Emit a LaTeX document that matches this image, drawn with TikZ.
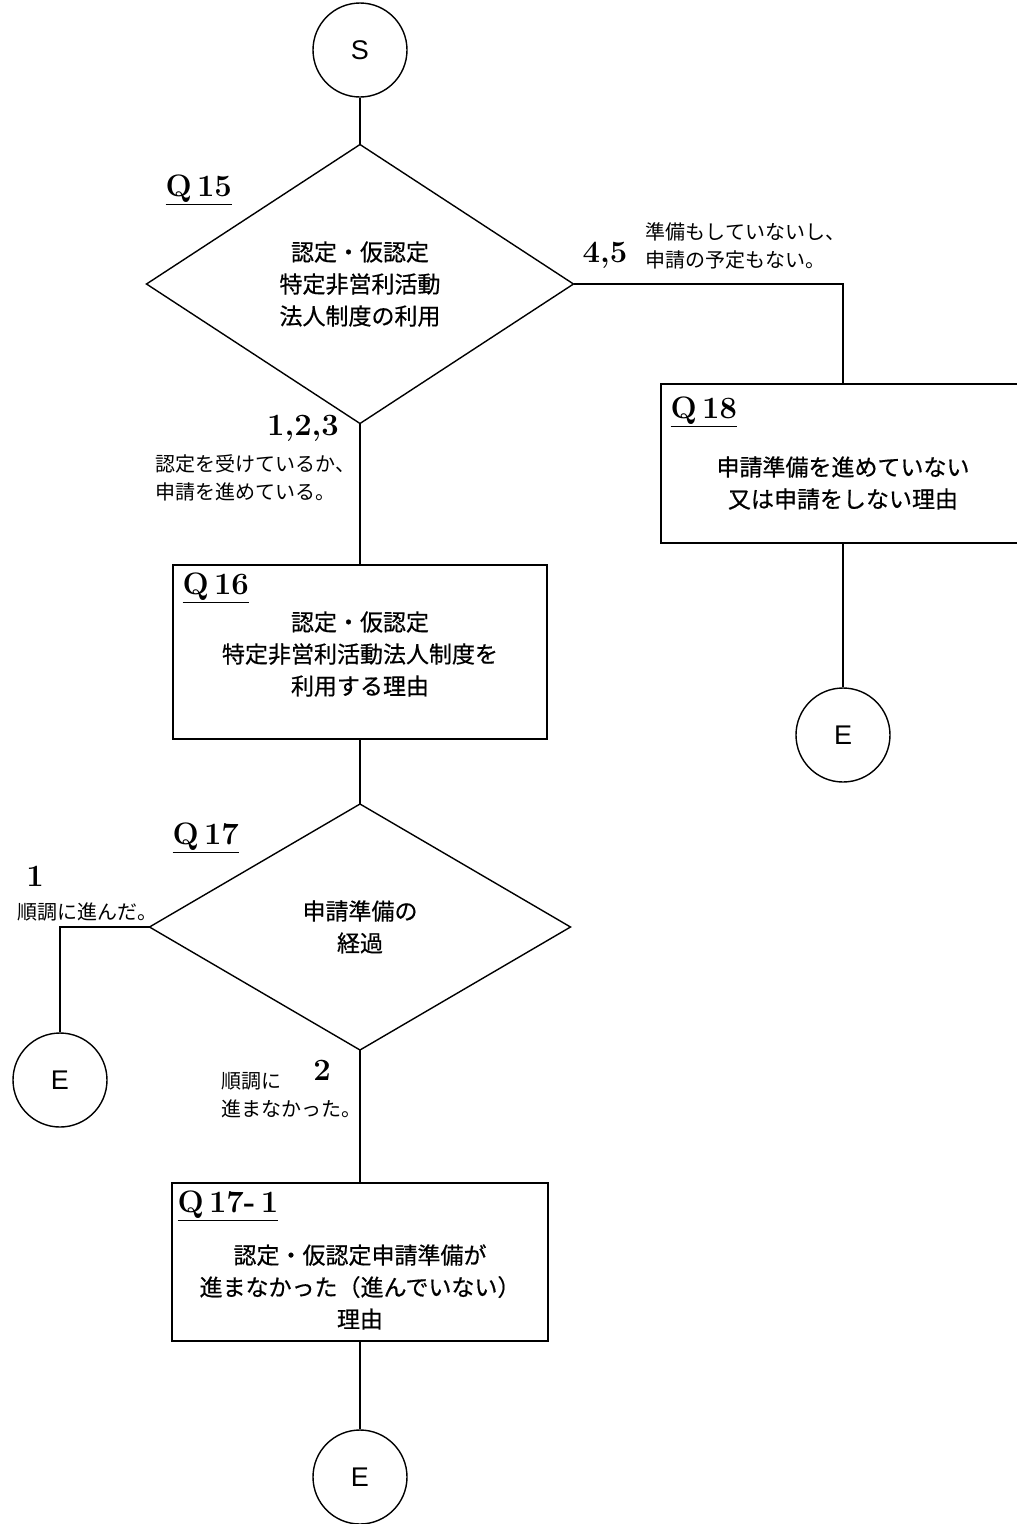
\documentclass[tikz,border=0pt]{standalone}
\usepackage{fontspec}
\newfontfamily\cjk{Noto Sans CJK JP}
\newfontfamily\cjkb{Noto Sans CJK JP}[FakeBold=0.6]
\newfontfamily\lsans{Liberation Sans}
\usetikzlibrary{shapes.geometric}
\begin{document}
\begin{tikzpicture}[x=1pt,y=-1pt,line width=1.4pt,
  term/.style={circle,draw,minimum size=94pt,inner sep=0pt,font=\lsans\fontsize{27}{30}\selectfont},
  decbox/.style={diamond,draw,inner sep=0pt,outer sep=0pt,align=center,font=\cjkb\fontsize{23}{32}\selectfont},
  qbox/.style={rectangle,draw,inner sep=0pt,outer sep=0pt},
  boxtext/.style={align=center,inner sep=0pt,font=\cjkb\fontsize{23}{32}\selectfont},
  qlabel/.style={anchor=west,inner sep=0pt,font=\bfseries\fontsize{31}{34}\selectfont},
  num/.style={inner sep=0pt,font=\bfseries\fontsize{31}{34}\selectfont},
  note/.style={anchor=west,align=left,inner sep=0pt,font=\cjk\fontsize{20}{28}\selectfont}]
\useasboundingbox (0,0) rectangle (1017,1524);
% main nodes
\node[term] (S) at (360,50) {S};
\node[decbox,minimum width=427pt,minimum height=279pt] (D15) at (360,284) {認定・仮認定\\特定非営利活動\\法人制度の利用};
\node[qbox,minimum width=374pt,minimum height=174pt] (B16) at (360,652) {};
\node[boxtext] (T16) at (360,654) {認定・仮認定\\特定非営利活動法人制度を\\利用する理由};
\node[decbox,minimum width=421pt,minimum height=246pt] (D17) at (360,927) {申請準備の\\経過};
\node[qbox,minimum width=376pt,minimum height=158pt] (B171) at (360,1262) {};
\node[boxtext] (T171) at (360,1287) {認定・仮認定申請準備が\\進まなかった（進んでいない）\\理由};
\node[qbox,minimum width=364pt,minimum height=159pt] (B18) at (843,463.5) {};
\node[boxtext] (T18) at (843,483) {申請準備を進めていない\\又は申請をしない理由};
\node[term] (E1) at (843,735) {E};
\node[term] (E2) at (60,1080) {E};
\node[term] (E3) at (360,1477) {E};
% connectors
\draw (S) -- (D15.north);
\draw (D15.east) -| (B18.north);
\draw (D15.south) -- (B16.north);
\draw (B16.south) -- (D17.north);
\draw (D17.west) -| (E2.north);
\draw (D17.south) -- (B171.north);
\draw (B171.south) -- (E3.north);
\draw (B18.south) -- (E1.north);
% question labels
\node[qlabel] (q15) at (165,190) {\underline{Q\,15}};
\node[qlabel] (q16) at (182,588) {\underline{Q\,16}};
\node[qlabel] (q17) at (172,838) {\underline{Q\,17}};
\node[qlabel] (q18) at (670,412) {\underline{Q\,18}};
\node[qlabel] (q171) at (177,1206) {\underline{Q\,17-\,1}};
% branch labels
\node[num] (n45) at (605,255) {4,5};
\node[note] (t45) at (645,246) {準備もしていないし、\\申請の予定もない。};
\node[num] (n123) at (303,428) {1,2,3};
\node[note] (t123) at (155,478) {認定を受けているか、\\申請を進めている。};
\node[num] (n1) at (35,876) {1};
\node[note] (t1) at (17,912) {順調に進んだ。};
\node[num] (n2) at (322,1070) {2};
\node[note] (t2) at (221,1095) {順調に\\進まなかった。};
\end{tikzpicture}
\end{document}
